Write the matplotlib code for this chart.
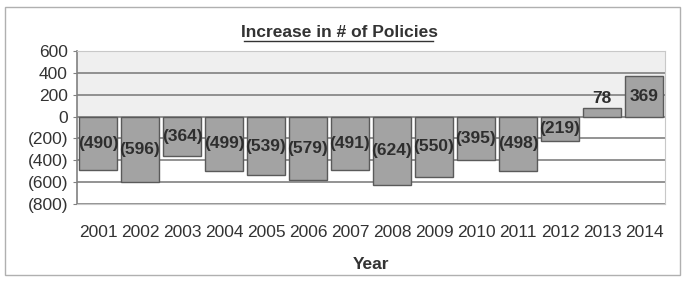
import matplotlib
matplotlib.use("Agg")
import matplotlib.pyplot as plt
from matplotlib.patches import Rectangle
from matplotlib.ticker import FixedLocator, FuncFormatter

years = ["2001", "2002", "2003", "2004", "2005", "2006", "2007",
         "2008", "2009", "2010", "2011", "2012", "2013", "2014"]
values = [-490, -596, -364, -499, -539, -579, -491,
          -624, -550, -395, -498, -219, 78, 369]
yticks = [600, 400, 200, 0, -200, -400, -600, -800]

plt.rcParams['font.family'] = ['Liberation Sans Narrow', 'Liberation Sans', 'DejaVu Sans']

fig = plt.figure(figsize=(6.85, 2.81), dpi=100)
fig.patches.append(Rectangle((0.008, 0.02), 0.984, 0.955, transform=fig.transFigure,
                             fill=False, edgecolor="#b0b0b0", linewidth=1.0))
ax = fig.add_axes([0.1124, 0.274, 0.8584, 0.5445])

x = list(range(len(years)))
ax.axhspan(0, 600, color="#efefef", zorder=0)
ax.set_ylim(-800, 600)
ax.set_xlim(-0.5, len(years) - 0.5)
for t in yticks:
    ax.axhline(t, color="#808080", linewidth=1.2, zorder=1)

bars = ax.bar(x, values, width=0.92, color="#a3a3a3", edgecolor="#5a5a5a",
              linewidth=1.0, zorder=2)

def fmt(v):
    return f"({abs(int(v))})" if v < 0 else f"{int(v)}"

for xi, v in zip(x, values):
    if 0 <= v < 150:
        ax.text(xi, v + 15, fmt(v), ha="center", va="bottom", fontsize=12.5,
                fontweight="bold", color="#2e2e2e", zorder=3)
    else:
        ax.text(xi, v / 2, fmt(v), ha="center", va="center", fontsize=12.5,
                fontweight="bold", color="#2e2e2e", zorder=3)

ax.yaxis.set_major_locator(FixedLocator(yticks))
ax.yaxis.set_major_formatter(FuncFormatter(lambda v, p: fmt(v)))
ax.set_xticks(x)
ax.set_xticklabels(years)
ax.tick_params(axis="y", labelsize=12.5, colors="#333333", length=3, color="#808080")
ax.tick_params(axis="x", labelsize=12.5, colors="#333333", length=0, pad=15)
for s in ["top", "right", "bottom"]:
    ax.spines[s].set_color("#c8c8c8")
ax.spines["left"].set_color("#808080")
ax.spines["left"].set_linewidth(1.2)

ax.set_xlabel("Year", fontsize=12.5, fontweight="bold", color="#333333", labelpad=12)
fig.text(0.495, 0.885, "Increase in # of Policies", ha="center", va="center",
         fontsize=12.5, fontweight="bold", color="#333333")
fig.lines.append(plt.Line2D([0.356, 0.632], [0.853, 0.853], transform=fig.transFigure,
                            color="#333333", linewidth=1.0))

fig.savefig("out.png", dpi=100)
